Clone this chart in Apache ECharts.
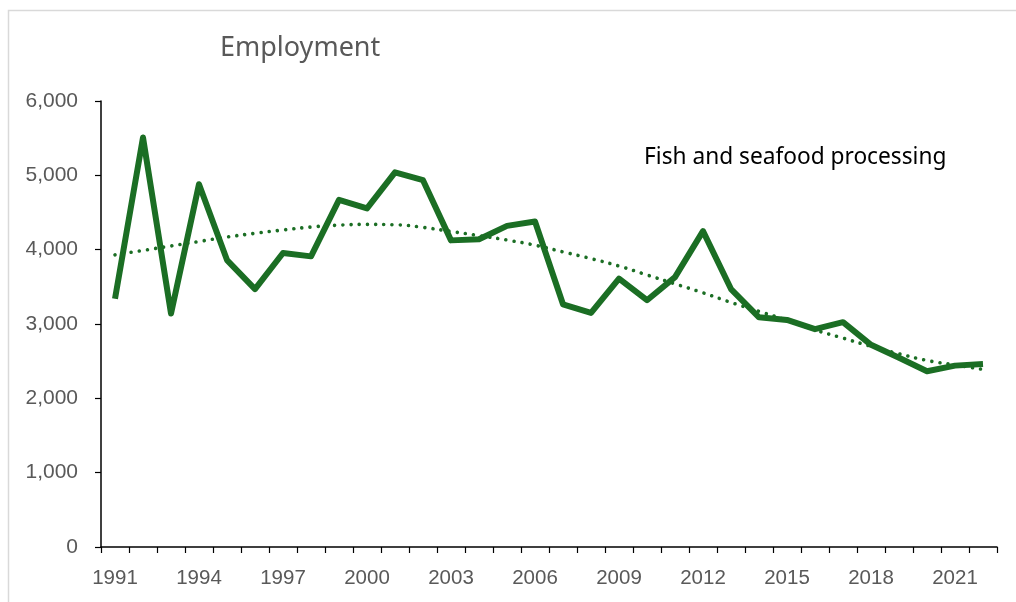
<!DOCTYPE html>
<html>
<head>
<meta charset="utf-8">
<script src="https://cdn.jsdelivr.net/npm/echarts@6/dist/echarts.min.js"></script>
<style>
  html, body { margin: 0; padding: 0; background: #fff; }
  #chart { width: 1016px; height: 602px; }
</style>
</head>
<body>
<div id="chart"></div>
<script>
// Years on the category axis
const years = [
  '1991','1992','1993','1994','1995','1996','1997','1998','1999','2000',
  '2001','2002','2003','2004','2005','2006','2007','2008','2009','2010',
  '2011','2012','2013','2014','2015','2016','2017','2018','2019','2020',
  '2021','2022'
];

// Employment in fish and seafood processing
const employment = [
  3340, 5510, 3140, 4880, 3860, 3470, 3955, 3910, 4670, 4555,
  5040, 4935, 4125, 4140, 4320, 4380, 3265, 3150, 3610, 3320,
  3630, 4250, 3470, 3090, 3055, 2930, 3025, 2720, 2545, 2365,
  2440, 2462
];

// Trend line values per year
const trend = [
  3930, 3990, 4050, 4110, 4170, 4220, 4265, 4305, 4330, 4340,
  4335, 4300, 4245, 4190, 4130, 4060, 3970, 3880, 3780, 3660,
  3540, 3420, 3290, 3170, 3050, 2920, 2810, 2700, 2600, 2510,
  2450, 2390
];

const yTicks = { min: 0, max: 6000, step: 1000 };

const green = '#1b6e24';
const axisFont = '"Liberation Sans", Arial, sans-serif';

const chart = echarts.init(document.getElementById('chart'), null, { renderer: 'canvas' });

chart.setOption({
  animation: false,
  backgroundColor: '#ffffff',
  grid: { left: 101, top: 101, right: 19, bottom: 55, containLabel: false },
  graphic: [
    {
      type: 'rect',
      shape: { x: 8.5, y: 10.5, width: 1100, height: 700 },
      style: { fill: 'none', stroke: '#d9d9d9', lineWidth: 1.5 },
      silent: true
    },
    {
      type: 'text',
      left: 220, top: 35,
      style: {
        text: 'Employment',
        fill: '#595959',
        font: '27px "Noto Sans", "Open Sans", sans-serif'
      }
    },
    {
      type: 'text',
      left: 644, top: 146,
      style: {
        text: 'Fish and seafood processing',
        fill: '#000000',
        font: '22.7px "Noto Sans", "Open Sans", sans-serif'
      }
    }
  ],
  xAxis: {
    type: 'category',
    data: years,
    boundaryGap: true,
    axisLine: { show: true, lineStyle: { color: '#000', width: 1.5 } },
    axisTick: { show: true, interval: 0, length: 6, inside: false, lineStyle: { color: '#000', width: 1.2 } },
    axisLabel: {
      interval: 2,
      color: '#595959',
      fontFamily: axisFont,
      fontSize: 20.5,
      margin: 21
    },
    splitLine: { show: false }
  },
  yAxis: {
    type: 'value',
    min: yTicks.min,
    max: yTicks.max,
    interval: yTicks.step,
    axisLine: { show: true, lineStyle: { color: '#000', width: 1.5 } },
    axisTick: { show: true, length: 6, lineStyle: { color: '#000', width: 1.2 } },
    axisLabel: {
      color: '#595959',
      fontFamily: axisFont,
      fontSize: 21,
      margin: 23,
      formatter: v => v.toLocaleString('en-US')
    },
    splitLine: { show: false }
  },
  series: [
    {
      name: 'Trend',
      type: 'line',
      data: trend,
      symbol: 'none',
      smooth: true,
      lineStyle: { color: green, width: 3.6, type: [0.01, 8.2], cap: 'round' },
      z: 2
    },
    {
      name: 'Fish and seafood processing',
      type: 'line',
      data: employment,
      symbol: 'none',
      lineStyle: { color: green, width: 6, cap: 'butt', join: 'round' },
      z: 3
    }
  ]
});
</script>
</body>
</html>
